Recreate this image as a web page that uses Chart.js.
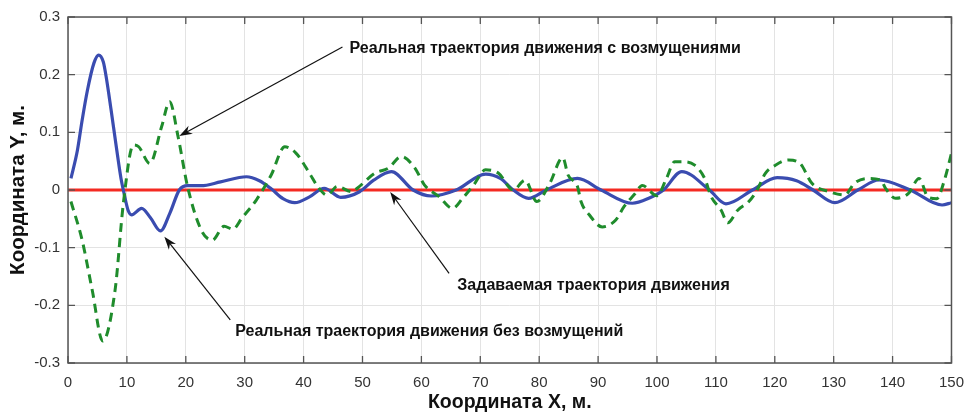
<!DOCTYPE html>
<html>
<head>
<meta charset="utf-8">
<script src="https://cdn.jsdelivr.net/npm/chart.js@4.4.1/dist/chart.umd.min.js"></script>
<style>
  html, body { margin: 0; padding: 0; background: #fff; }
</style>
</head>
<body>
<canvas id="c" width="975" height="414"></canvas>
<script>
var xTicks = [0, 10, 20, 30, 40, 50, 60, 70, 80, 90, 100, 110, 120, 130, 140, 150];
var yTicks = [-0.3, -0.2, -0.1, 0, 0.1, 0.2, 0.3];

// заданная траектория
var refX = [0, 150];
var refY = [0, 0];

// реальная траектория без возмущений
var blueX = [0.5, 1.6, 2.4, 3.3, 4.4, 5.2, 6.0, 6.5, 7.3, 8.2, 9.0, 9.5, 10.2, 10.8, 12.5, 14.0, 15.7, 17.3, 18.9, 20.3, 22.6, 25.9,
  30.3, 32.5, 34.5, 36.5, 38.5, 41.0, 43.5, 46.3, 49.5, 51.9, 54.9, 58.6, 61.7, 65.9, 70.9, 73.4, 75.6, 78.2, 81.2,
  86.5, 90.5, 95.8, 98.6, 101.1, 104.2, 108.9, 111.7, 116.2, 120.4, 123.7, 126.5, 130.2, 134.1, 137.7, 143.0, 148.4, 150];
var blueY = [0.02, 0.069, 0.121, 0.173, 0.22, 0.234, 0.222, 0.195, 0.14, 0.075, 0.02, -0.005, -0.035, -0.043, -0.032, -0.048, -0.071, -0.04, 0.0, 0.0075, 0.0075, 0.014,
  0.023, 0.016, 0.002, -0.015, -0.022, -0.012, 0.003, -0.0127, -0.003, 0.017, 0.032, 0.0, -0.0104, 0.0, 0.0277, 0.02, 0.0, -0.0144, 0.0,
  0.02, 0.0, -0.023, -0.0144, 0.0, 0.032, 0.0, -0.024, 0.0, 0.0214, 0.016, 0.0, -0.022, 0.0, 0.0173, 0.0, -0.026, -0.022];

// реальная траектория с возмущениями
var greenX = [0.5, 2.4, 4.1, 5.9, 8.0, 9.4, 11.1, 12.0, 13.9, 15.9, 17.25, 18.7, 20.3, 22.6, 24.5, 26.5, 28.0, 29.5, 32.0, 34.5,
  36.8, 38.7, 41.0, 42.4, 44.0, 45.7, 48.2, 49.1, 52.1, 54.4, 56.6, 58.9, 60.5, 63.0, 65.3, 67.0, 68.9, 70.9, 73.1, 75.6,
  77.6, 79.6, 81.8, 84.0, 84.9, 86.5, 87.1, 88.5, 90.7, 93.0, 94.4, 96.3, 97.5, 100.0, 101.6, 103.0, 104.7, 106.4, 108.1, 109.2,
  110.9, 112.0, 113.7, 115.6, 117.0, 118.4, 120.1, 122.3, 124.3, 126.3, 129.3, 131.9, 133.5, 135.8, 138.0, 138.8, 140.5, 142.7,
  144.5, 146.0, 147.5, 148.8, 150];
var greenY = [-0.02, -0.087, -0.173, -0.262, -0.173, -0.023, 0.078, 0.075, 0.046, 0.11, 0.153, 0.092, 0.006, -0.069, -0.087, -0.063, -0.068, -0.049, -0.017, 0.026,
  0.075, 0.064, 0.029, 0.006, -0.009, 0.006, -0.003, 0.003, 0.029, 0.038, 0.058, 0.038, 0.009, -0.0116, -0.032, -0.0144, 0.009, 0.035, 0.029, 0.0,
  0.017, -0.02, 0.0116, 0.056, 0.026, 0.006, -0.02, -0.043, -0.064, -0.052, -0.029, -0.006, 0.008, -0.01, 0.02, 0.049, 0.049, 0.043, 0.02, -0.0116,
  -0.035, -0.057, -0.035, -0.02, 0.0, 0.029, 0.043, 0.052, 0.046, 0.0116, -0.003, -0.0087, 0.0116, 0.02, 0.017, 0.003, -0.0144, -0.006,
  0.02, -0.012, -0.015, 0.017, 0.064];

var notes = [
  { text: 'Реальная траектория движения с возмущениями', tx: 47.8, ty: 0.2457, fx: 46.6, fy: 0.248, px: 18.9, py: 0.0936 },
  { text: 'Реальная траектория движения без возмущений', tx: 28.4, ty: -0.2457, fx: 27.55, fy: -0.2254, px: 16.36, py: -0.081 },
  { text: 'Задаваемая траектория движения', tx: 66.1, ty: -0.1665, fx: 64.7, fy: -0.1445, px: 54.7, py: -0.0035 }
];

function pts(xs, ys) {
  return xs.map(function (x, i) { return { x: x, y: ys[i] }; });
}

var FONT = '"Liberation Sans", Arial, sans-serif';

var framePlugin = {
  id: 'frame',
  afterDraw: function (chart) {
    var ctx = chart.ctx, a = chart.chartArea;
    var xs = chart.scales.x, ys = chart.scales.y;
    var i, p;
    ctx.save();
    ctx.strokeStyle = '#555';
    ctx.lineWidth = 1.5;
    ctx.strokeRect(a.left, a.top, a.right - a.left, a.bottom - a.top);

    ctx.lineWidth = 1.3;
    ctx.beginPath();
    for (i = 0; i < xTicks.length; ++i) {
      p = xs.getPixelForValue(xTicks[i]);
      ctx.moveTo(p, a.bottom); ctx.lineTo(p, a.bottom - 7);
      ctx.moveTo(p, a.top); ctx.lineTo(p, a.top + 7);
    }
    for (i = 0; i < yTicks.length; ++i) {
      p = ys.getPixelForValue(yTicks[i]);
      ctx.moveTo(a.left, p); ctx.lineTo(a.left + 7, p);
      ctx.moveTo(a.right, p); ctx.lineTo(a.right - 7, p);
    }
    ctx.stroke();

    // подписи со стрелками
    ctx.font = 'bold 16px ' + FONT;
    ctx.fillStyle = '#111';
    ctx.strokeStyle = '#111';
    ctx.textBaseline = 'middle';
    ctx.textAlign = 'left';
    for (i = 0; i < notes.length; ++i) {
      var n = notes[i];
      ctx.fillText(n.text, xs.getPixelForValue(n.tx), ys.getPixelForValue(n.ty));
      var x0 = xs.getPixelForValue(n.fx), y0 = ys.getPixelForValue(n.fy);
      var x1 = xs.getPixelForValue(n.px), y1 = ys.getPixelForValue(n.py);
      var ang = Math.atan2(y1 - y0, x1 - x0);
      ctx.lineWidth = 1.2;
      ctx.beginPath();
      ctx.moveTo(x0, y0);
      ctx.lineTo(x1 - 8 * Math.cos(ang), y1 - 8 * Math.sin(ang));
      ctx.stroke();
      ctx.beginPath();
      ctx.moveTo(x1, y1);
      ctx.lineTo(x1 - 13 * Math.cos(ang) + 4.5 * Math.sin(ang), y1 - 13 * Math.sin(ang) - 4.5 * Math.cos(ang));
      ctx.lineTo(x1 - 9 * Math.cos(ang), y1 - 9 * Math.sin(ang));
      ctx.lineTo(x1 - 13 * Math.cos(ang) - 4.5 * Math.sin(ang), y1 - 13 * Math.sin(ang) + 4.5 * Math.cos(ang));
      ctx.closePath();
      ctx.fill();
    }
    ctx.restore();
  }
};

var ctx = document.getElementById('c').getContext('2d');
var chart = new Chart(ctx, {
  type: 'line',
  data: {
    datasets: [
      {
        label: 'с возмущениями',
        data: pts(greenX, greenY),
        borderColor: '#1f8c2c',
        borderWidth: 3,
        borderDash: [9, 6],
        cubicInterpolationMode: 'monotone',
        pointRadius: 0,
        fill: false
      },
      {
        label: 'без возмущений',
        data: pts(blueX, blueY),
        borderColor: '#3a4cb0',
        borderWidth: 3.2,
        cubicInterpolationMode: 'monotone',
        pointRadius: 0,
        fill: false
      },
      {
        label: 'задаваемая',
        data: pts(refX, refY),
        borderColor: '#f42a22',
        borderWidth: 3,
        pointRadius: 0,
        fill: false
      }
    ]
  },
  options: {
    responsive: false,
    animation: false,
    devicePixelRatio: 1,
    layout: { padding: { left: 0, right: 13, top: 16, bottom: 0 } },
    plugins: {
      legend: { display: false },
      tooltip: { enabled: false }
    },
    scales: {
      x: {
        type: 'linear',
        min: 0,
        max: 150,
        afterBuildTicks: function (s) { s.ticks = xTicks.map(function (v) { return { value: v }; }); },
        afterFit: function (s) { s.height = 51; },
        grid: { color: '#e3e3e3', drawTicks: false },
        border: { display: false },
        ticks: { font: { family: FONT, size: 15 }, color: '#333', padding: 11, maxRotation: 0, autoSkip: false },
        title: { display: true, text: 'Координата X, м.', color: '#111', font: { family: FONT, size: 19.5, weight: 'bold' }, padding: { top: 0, bottom: 0 } }
      },
      y: {
        type: 'linear',
        min: -0.3,
        max: 0.3,
        afterBuildTicks: function (s) { s.ticks = yTicks.map(function (v) { return { value: v }; }); },
        afterFit: function (s) { s.width = 68; },
        grid: { color: '#e3e3e3', drawTicks: false },
        border: { display: false },
        ticks: {
          font: { family: FONT, size: 15 }, color: '#333', padding: 8, autoSkip: false,
          callback: function (v) { return v === 0 ? '0' : v.toFixed(1); }
        },
        title: { display: true, text: 'Координата Y, м.', color: '#111', font: { family: FONT, size: 20.5, weight: 'bold' }, padding: { top: 6, bottom: 2 } }
      }
    }
  },
  plugins: [framePlugin]
});
</script>
</body>
</html>
